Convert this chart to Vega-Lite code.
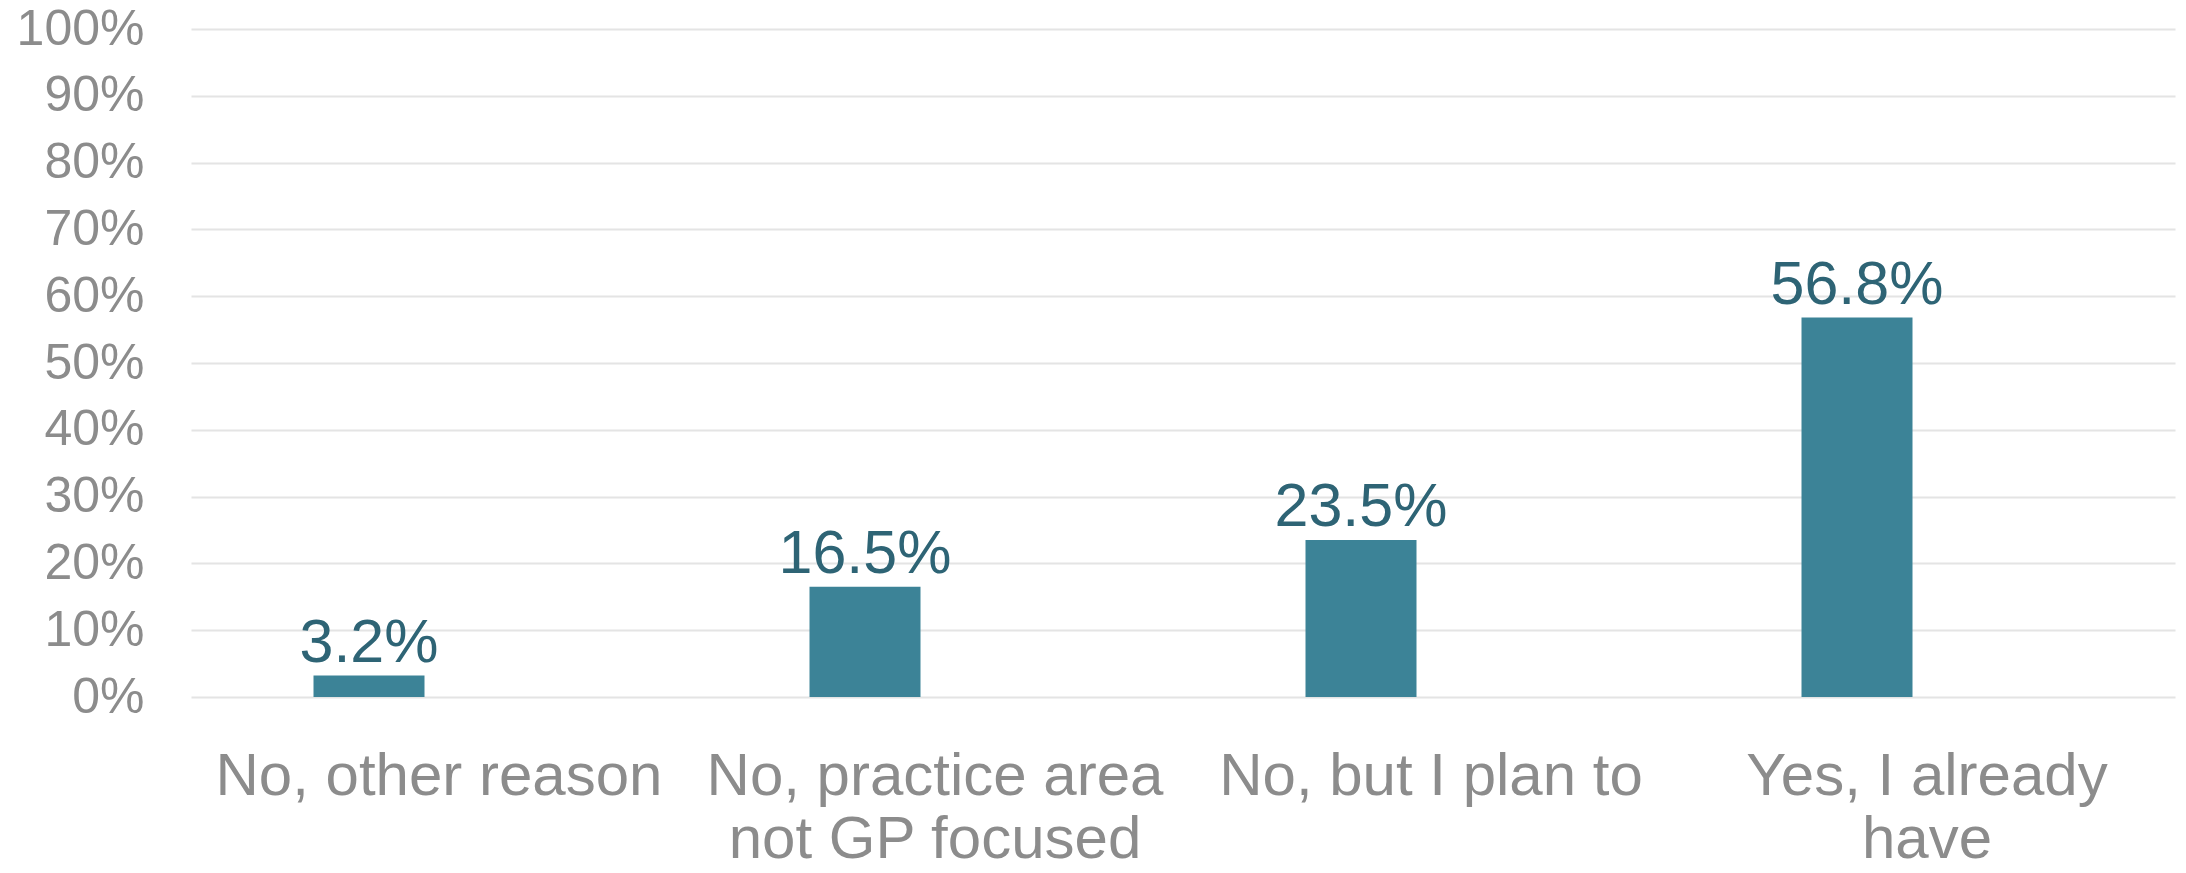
{
  "$schema": "https://vega.github.io/schema/vega-lite/v6.json",
  "width": 1984,
  "height": 668,
  "autosize": {"type": "none"},
  "padding": {"left": 191, "top": 29, "right": 11, "bottom": 176},
  "background": "white",
  "config": {"view": {"stroke": null}, "font": "Liberation Sans"},
  "data": {"values": [
    {"answer": "No, other reason", "share": 0.032},
    {"answer": "No, practice area not GP focused", "share": 0.165},
    {"answer": "No, but I plan to", "share": 0.235},
    {"answer": "Yes, I already have", "share": 0.568}
  ]},
  "encoding": {
    "x": {"field": "answer", "type": "nominal", "sort": null,
      "scale": {"paddingInner": 0, "paddingOuter": 0},
      "axis": {"title": null, "domain": false, "ticks": false, "labelAngle": 0,
        "labelFont": "Liberation Sans", "labelFontSize": 60, "labelColor": "#8C8C8C",
        "labelPadding": 97, "labelLineHeight": 63, "labelBaseline": "alphabetic",
        "labelLimit": 0, "labelOverlap": false,
        "labelExpr": "datum.label == 'No, practice area not GP focused' ? ['No, practice area', 'not GP focused'] : datum.label == 'Yes, I already have' ? ['Yes, I already', 'have'] : datum.label"}},
    "y": {"field": "share", "type": "quantitative",
      "scale": {"domain": [0, 1], "nice": false},
      "axis": {"title": null, "domain": false, "ticks": false, "values": [0,0.1,0.2,0.3,0.4,0.5,0.6,0.7,0.8,0.9,1],
        "format": ".0%", "labelFont": "Liberation Sans", "labelFontSize": 50, "labelColor": "#8C8C8C",
        "labelOverlap": false, "labelLimit": 0,
        "labelPadding": 47, "gridColor": "#E4E4E4", "gridWidth": 2}}
  },
  "layer": [
    {"mark": {"type": "bar", "color": "#3C8397", "size": 111, "xOffset": -70}},
    {"mark": {"type": "text", "color": "#2E6475", "fontSize": 61, "font": "Liberation Sans", "baseline": "alphabetic", "dy": -14, "xOffset": -70},
     "encoding": {"text": {"field": "share", "type": "quantitative", "format": ".1%"}}}
  ]
}
